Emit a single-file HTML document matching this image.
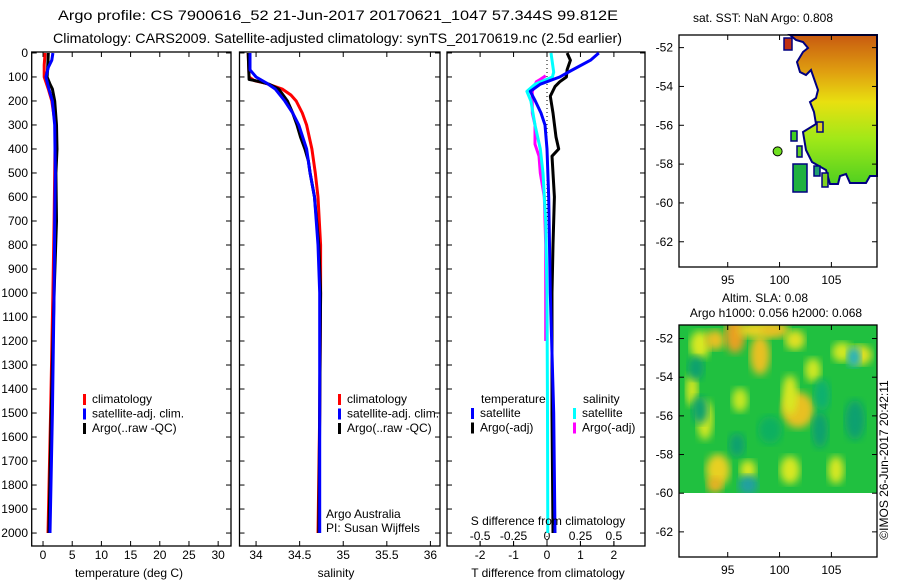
<!DOCTYPE html>
<html><head><meta charset="utf-8">
<style>
html,body{margin:0;padding:0;background:#fff;}
svg{display:block;font-family:"Liberation Sans",sans-serif;}
text{font-size:12px;fill:#000;}
</style></head>
<body>
<svg id="fig" width="900" height="580" viewBox="0 0 900 580">
<defs>
<linearGradient id="sstg" x1="0" y1="0" x2="0" y2="1">
<stop offset="0" stop-color="#c85a10"/><stop offset="0.25" stop-color="#e0a010"/>
<stop offset="0.45" stop-color="#e8e010"/><stop offset="0.7" stop-color="#a0e818"/><stop offset="1" stop-color="#50d020"/>
</linearGradient>
<filter id="blur"><feGaussianBlur stdDeviation="4"/></filter>
<clipPath id="slaclip"><rect x="679" y="325" width="198" height="168"/></clipPath>
</defs>
<text x="58" y="20" textLength="560" lengthAdjust="spacingAndGlyphs" style="font-size:14px">Argo profile: CS 7900616_52 21-Jun-2017 20170621_1047 57.344S 99.812E</text>
<text x="53" y="43" textLength="569" lengthAdjust="spacingAndGlyphs" style="font-size:14px">Climatology: CARS2009. Satellite-adjusted climatology: synTS_20170619.nc (2.5d earlier)</text>
<g id="p1"></g>
<g id="p2"></g>
<g id="p3"></g>
<g id="m1"></g>
<g id="m2"></g>
<text transform="translate(888,460) rotate(-90)" text-anchor="middle">©IMOS 26-Jun-2017 20:42:11</text>
</svg>
<script>
// ---- data ----
const depthTicks=[0,100,200,300,400,500,600,700,800,900,1000,1100,1200,1300,1400,1500,1600,1700,1800,1900,2000];
const tTicks=[0,5,10,15,20,25,30];
const sTicks=[34,34.5,35,35.5,36];
const dTTicks=[-2,-1,0,1,2];
const dSTicks=[-0.5,-0.25,0,0.25,0.5];
const dSTickLabels=["-0.5","-0.25","0","0.25","0.5"];
const tClimDepth=[0,50,100,150,200,300,500,700,1000,1500,2000];
const tClim=[0.35,0.2,0.2,0.9,1.5,2.1,2.0,1.9,1.7,1.3,0.86];
const tSatDepth=[0,30,60,100,150,200,300,500,700,1000,1500,2000];
const tSat=[1.7,1.5,0.9,0.5,1.0,1.6,2.0,2.1,2.0,1.9,1.6,1.2];
const tArgoDepth=[0,60,100,130,150,200,300,400,500,700,1000,1500,2000];
const tArgo=[0.9,0.8,0.7,1.2,1.6,2.0,2.3,2.4,2.2,2.3,1.9,1.4,1.0];
const sClimDepth=[0,100,115,125,150,175,200,250,300,400,500,600,800,1000,1500,2000];
const sClim=[33.91,33.92,33.98,34.1,34.3,34.4,34.46,34.53,34.58,34.64,34.68,34.71,34.74,34.74,34.73,34.71];
const sSatDepth=[0,70,100,125,150,200,250,300,400,500,600,800,1000,1500,2000];
const sSat=[33.93,33.93,34.0,34.12,34.22,34.33,34.42,34.49,34.58,34.62,34.67,34.71,34.73,34.73,34.73];
const sArgoDepth=[0,110,120,130,150,200,250,300,350,400,450,500,600,800,1000,1500,2000];
const sArgo=[33.91,33.92,34.05,34.15,34.26,34.36,34.42,34.47,34.51,34.56,34.6,34.62,34.67,34.72,34.74,34.73,34.72];
const dTSatDepth=[0,30,75,100,130,160,200,250,300,400,600,1000,1500,2000];
const dTSat=[1.55,1.3,0.7,0.38,-0.2,-0.5,-0.35,-0.18,-0.06,0,0.05,0.1,0.2,0.24];
const dTArgoDepth=[0,30,70,100,120,140,180,250,350,400,430,500,600,800,1000,1500,2000];
const dTArgo=[0.6,0.7,0.6,0.58,0.38,0.24,0.1,0.18,0.27,0.35,0.15,0.18,0.22,0.18,0.15,0.15,0.18];
const dSSatDepth=[0,80,100,130,160,200,300,400,500,700,1000,1500,2000];
const dSSat=[0.03,0.05,0.04,-0.09,-0.15,-0.12,-0.09,-0.05,-0.03,-0.01,0,0.004,0.006];
const dSArgoDepth=[95,110,120,160,250,300,380,430,500,600,800,1000,1200];
const dSArgo=[-0.01,-0.05,-0.08,-0.11,-0.11,-0.09,-0.09,-0.06,-0.05,-0.02,-0.01,-0.01,-0.01];
const mapLonTicks=[95,100,105];
const mapLatTicks=[-52,-54,-56,-58,-60,-62];
const argoLon=[99.812];
const argoLat=[-57.344];

// ---- helpers ----
const NS="http://www.w3.org/2000/svg";
function mk(parent,tag,attrs,txt){const e=document.createElementNS(NS,tag);for(const k in attrs)e.setAttribute(k,attrs[k]);if(txt!==undefined)e.textContent=txt;parent.appendChild(e);return e;}
const Y0=52,Y1=546,D0=-4,D1=2054;
function yD(d){return Y0+(d-D0)/(D1-D0)*(Y1-Y0);}
function linX(x0,x1,v0,v1){return v=>x0+(v-v0)/(v1-v0)*(x1-x0);}

function frame(g,x0,x1,name){
  const r=mk(g,'rect',{x:x0,y:Y0,width:x1-x0,height:Y1-Y0,fill:'none',stroke:'#000','stroke-width':1.3});
  
  
  depthTicks.forEach(d=>{const y=yD(d);
    mk(g,'line',{x1:x0,x2:x0+5,y1:y,y2:y,stroke:'#000'});
    mk(g,'line',{x1:x1,x2:x1-5,y1:y,y2:y,stroke:'#000'});});
}
function xticks(g,sx,ticks,labels,name){
  ticks.forEach((t,i)=>{const x=sx(t);
    mk(g,'line',{x1:x,x2:x,y1:Y0,y2:Y0+5,stroke:'#000'});
    mk(g,'line',{x1:x,x2:x,y1:Y1,y2:Y1-5,stroke:'#000'});
    const tx=mk(g,'text',{x:x,y:559,'text-anchor':'middle'},labels?labels[i]:String(t));
    
    });
}
function series(g,sx,vals,depths,color,name){
  const pts=vals.map((v,i)=>sx(v).toFixed(1)+','+yD(depths[i]).toFixed(1)).join(' ');
  const p=mk(g,'polyline',{points:pts,fill:'none',stroke:color,'stroke-width':3,'stroke-linejoin':'round'});
  
  
}
function legend(g,x,y,items){
  items.forEach((it,i)=>{
    mk(g,'rect',{x:x,y:y+i*14.5-9,width:3,height:11,fill:it[1]});
    const t=mk(g,'text',{x:x+9,y:y+i*14.5},it[0]);
    
    
  });
}

// ---- panel 1 temperature ----
const p1=document.getElementById('p1');
const sxT=linX(31.7,231,-1.94,32.2);
frame(p1,31.7,231,'temperature');
depthTicks.forEach(d=>{const t=mk(p1,'text',{x:28,y:yD(d)+4,'text-anchor':'end'},String(d));
  
  });
xticks(p1,sxT,tTicks,null,'temperature');
series(p1,sxT,tClim,tClimDepth,'#f00','temp-climatology-line');
series(p1,sxT,tArgo,tArgoDepth,'#000','temp-argo-line');
series(p1,sxT,tSat,tSatDepth,'#00f','temp-satellite-line');
legend(p1,83,403,[['climatology','#f00'],['satellite-adj. clim.','#00f'],['Argo(..raw -QC)','#000']]);
mk(p1,'text',{x:129,y:577,'text-anchor':'middle'},'temperature (deg C)');

// ---- panel 2 salinity ----
const p2=document.getElementById('p2');
const sxS=linX(239.5,440,33.81,36.11);
frame(p2,239.5,440,'salinity');
xticks(p2,sxS,sTicks,null,'salinity');
series(p2,sxS,sClim,sClimDepth,'#f00','sal-climatology-line');
series(p2,sxS,sArgo,sArgoDepth,'#000','sal-argo-line');
series(p2,sxS,sSat,sSatDepth,'#00f','sal-satellite-line');
legend(p2,338,403,[['climatology','#f00'],['satellite-adj. clim.','#00f'],['Argo(..raw -QC)','#000']]);
mk(p2,'text',{x:326,y:518},'Argo Australia');
mk(p2,'text',{x:326,y:532},'PI: Susan Wijffels');
mk(p2,'text',{x:336,y:577,'text-anchor':'middle'},'salinity');

// ---- panel 3 differences ----
const p3=document.getElementById('p3');
const sxD=linX(447,645,-2.99,2.93);
const sxDS=v=>sxD(v*4);
frame(p3,447,645,'difference');
xticks(p3,sxD,dTTicks,null,'t-diff');
mk(p3,'line',{x1:sxD(0),x2:sxD(0),y1:Y0,y2:Y1,stroke:'#000','stroke-dasharray':'1,3'});
dSTicks.forEach((t,i)=>{const x=sxDS(t);
  const tx=mk(p3,'text',{x:x,y:540,'text-anchor':'middle'},dSTickLabels[i]);
  
  
  mk(p3,'line',{x1:x,x2:x,y1:Y1,y2:Y1-5,stroke:'#000'});});
series(p3,sxDS,dSArgo,dSArgoDepth,'#f0f','sdiff-argo-line');
series(p3,sxD,dTArgo,dTArgoDepth,'#000','tdiff-argo-line');
series(p3,sxDS,dSSat,dSSatDepth,'#0ff','sdiff-satellite-line');
series(p3,sxD,dTSat,dTSatDepth,'#00f','tdiff-satellite-line');
mk(p3,'text',{x:481,y:403},'temperature');
mk(p3,'text',{x:583,y:403},'salinity');
legend(p3,471,417,[['satellite','#00f'],['Argo(-adj)','#000']]);
legend(p3,573,417,[['satellite','#0ff'],['Argo(-adj)','#f0f']]);
mk(p3,'text',{x:548,y:525,'text-anchor':'middle'},'S difference from climatology');
mk(p3,'text',{x:548,y:577,'text-anchor':'middle'},'T difference from climatology');

// ---- maps ----
function mapAxes(g,x0,x1,y0,y1,lon0,lon1,lat0,lat1,name){
  const sx=linX(x0,x1,lon0,lon1), sy=linX(y0,y1,lat0,lat1);
  const r=mk(g,'rect',{x:x0,y:y0,width:x1-x0,height:y1-y0,fill:'none',stroke:'#000','stroke-width':1.3});
  
  
  mapLonTicks.forEach(l=>{const x=sx(l);
    mk(g,'line',{x1:x,x2:x,y1:y0,y2:y0+5,stroke:'#000'});
    mk(g,'line',{x1:x,x2:x,y1:y1,y2:y1-5,stroke:'#000'});
    mk(g,'text',{x:x,y:y1+17,'text-anchor':'middle'},String(l));});
  mapLatTicks.forEach(l=>{const y=sy(l);
    mk(g,'line',{x1:x0,x2:x0+5,y1:y,y2:y,stroke:'#000'});
    mk(g,'line',{x1:x1,x2:x1-5,y1:y,y2:y,stroke:'#000'});
    mk(g,'text',{x:x0-6,y:y+4,'text-anchor':'end'},String(l));});
  return [sx,sy];
}
const m1=document.getElementById('m1');
mk(m1,'text',{x:763,y:22,'text-anchor':'middle'},'sat. SST: NaN Argo: 0.808');
const sstPts="790,35 877,35 877,176 870,176 866,183 850,183 846,174 840,176 838,184 830,184 826,170 812,162 806,150 803,132 816,124 814,112 810,102 816,98 818,90 811,70 806,75 800,72 797,62 803,52 808,48 803,42 796,40";
mk(m1,'polygon',{points:sstPts,fill:'url(#sstg)',stroke:'#000080','stroke-width':2});
mk(m1,'rect',{x:784,y:38,width:8,height:12,fill:'#c03010',stroke:'#000080','stroke-width':1.5});
mk(m1,'rect',{x:793,y:164,width:14,height:28,fill:'#20b040',stroke:'#000080','stroke-width':1.5});
mk(m1,'rect',{x:791,y:131,width:6,height:10,fill:'#40d020',stroke:'#000080','stroke-width':1.5});
mk(m1,'rect',{x:797,y:146,width:5,height:11,fill:'#60d020',stroke:'#000080','stroke-width':1.5});
mk(m1,'rect',{x:814,y:166,width:6,height:10,fill:'#20a070',stroke:'#000080','stroke-width':1.5});
mk(m1,'rect',{x:822,y:173,width:6,height:14,fill:'#80d020',stroke:'#000080','stroke-width':1.5});
mk(m1,'rect',{x:817,y:122,width:6,height:10,fill:'#e0d020',stroke:'#000080','stroke-width':1.5});
const [mx1,my1]=mapAxes(m1,679,877,35,267,90.3,109.4,-51.35,-63.3,'sst-map');
argoLon.forEach((lo,i)=>{const c=mk(m1,'circle',{cx:mx1(lo),cy:my1(argoLat[i]),r:4.5,fill:'#70e020',stroke:'#000'});
  
  });

const m2=document.getElementById('m2');
mk(m2,'text',{x:765,y:302,'text-anchor':'middle'},'Altim. SLA: 0.08');
mk(m2,'text',{x:776,y:317,'text-anchor':'middle'},'Argo h1000: 0.056 h2000: 0.068');
const blobs=mk(m2,'g',{'clip-path':'url(#slaclip)'});
mk(blobs,'rect',{x:679,y:325,width:198,height:168,fill:'#20c040'});
const bl=[[700,345,10,14,'#d8e820'],[715,340,10,10,'#e8c020'],[735,335,10,18,'#e8a020'],[760,355,10,20,'#e8c020'],[756,330,18,8,'#e8d020'],[775,330,14,8,'#e8c020'],[795,340,10,10,'#e0e020'],[798,410,16,18,'#e8c020'],[790,395,8,20,'#d8e820'],[813,370,8,12,'#d0e820'],[860,355,12,10,'#e0e020'],[842,352,10,10,'#d0e820'],[692,390,6,16,'#d8e820'],[705,420,8,20,'#d0e820'],[718,470,12,16,'#e8d020'],[715,485,8,8,'#e8b020'],[748,470,8,10,'#d8e820'],[790,470,10,14,'#d8e820'],[836,470,8,14,'#d8e820'],[740,400,8,12,'#c8e820'],[696,368,8,12,'#10a070'],[700,410,8,14,'#10a070'],[737,445,8,12,'#10a070'],[748,485,10,10,'#20a0a0'],[854,357,7,10,'#20b0c0'],[820,430,8,18,'#10a070'],[855,420,10,20,'#10a070'],[770,430,12,14,'#10b060'],[822,395,8,16,'#10b070']];
bl.forEach(b=>mk(blobs,'ellipse',{cx:b[0],cy:b[1],rx:b[2],ry:b[3],fill:b[4],filter:'url(#blur)'}));
mapAxes(m2,679,877,325,557,90.3,109.4,-51.3,-63.3,'sla-map');
</script>
</body></html>
